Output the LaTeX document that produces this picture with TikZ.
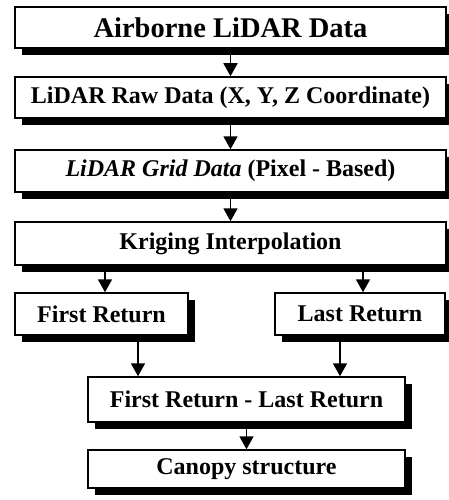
\documentclass[tikz,border=0pt]{standalone}
\usepackage{fontspec}
\setmainfont{Liberation Serif}
\newfontface\bifont{Liberation Serif Bold Italic}
\usetikzlibrary{shadows,arrows.meta}

\tikzset{
  box/.style={draw=black, line width=1.5pt, fill=white, inner sep=0pt,
    align=center, font=\bfseries\fontsize{24}{28}\selectfont,
    drop shadow={shadow xshift=7pt, shadow yshift=-7pt, fill=black, opacity=1}},
  arr/.style={line width=1.8pt, -{Triangle[width=14pt,length=13pt]}},
}

\begin{document}
\begin{tikzpicture}[x=1pt, y=-1pt]
  \useasboundingbox (0,0) rectangle (449,500);

  % vertical chain of processing steps
  \node[box, minimum width=431pt, minimum height=41pt,
        font=\bfseries\fontsize{28.5}{32}\selectfont]
    (air) at (230.5,27.5) {Airborne LiDAR Data};
  \node[box, minimum width=431pt, minimum height=41pt]
    (raw) at (230.5,97.5) {LiDAR Raw Data (X, Y, Z Coordinate)};
  \node[box, minimum width=431pt, minimum height=42pt]
    (grid) at (230.5,171) {{\bifont LiDAR Grid Data} (Pixel - Based)};
  \node[box, minimum width=431pt, minimum height=43pt]
    (krig) at (230.5,243.5) {Kriging Interpolation};

  % the two returns
  \node[box, minimum width=173pt, minimum height=42pt]
    (first) at (101.5,314) {First Return};
  \node[box, minimum width=170pt, minimum height=42pt]
    (last) at (360,314) {Last Return};

  % difference and result
  \node[box, minimum width=317pt, minimum height=45pt]
    (diff) at (246.5,399.5) {First Return - Last Return};
  \node[box, minimum width=317pt, minimum height=38pt]
    (canopy) at (246.5,469) {Canopy structure};

  % connectors
  \draw[arr] (air.south) -- (raw.north);
  \draw[arr] (raw.south) -- (grid.north);
  \draw[arr] (grid.south) -- (krig.north);
  \draw[arr] (krig.south -| first.center) ++(3.5,0) coordinate (k1)
    -- (k1 |- first.north);
  \draw[arr] (krig.south -| last.center) ++(3,0) coordinate (k2)
    -- (k2 |- last.north);
  \draw[arr] ([xshift=36.5pt]first.south) coordinate (f1) -- (f1 |- diff.north);
  \draw[arr] ([xshift=-20pt]last.south) coordinate (l1) -- (l1 |- diff.north);
  \draw[arr] (diff.south) -- (canopy.north);
\end{tikzpicture}
\end{document}
